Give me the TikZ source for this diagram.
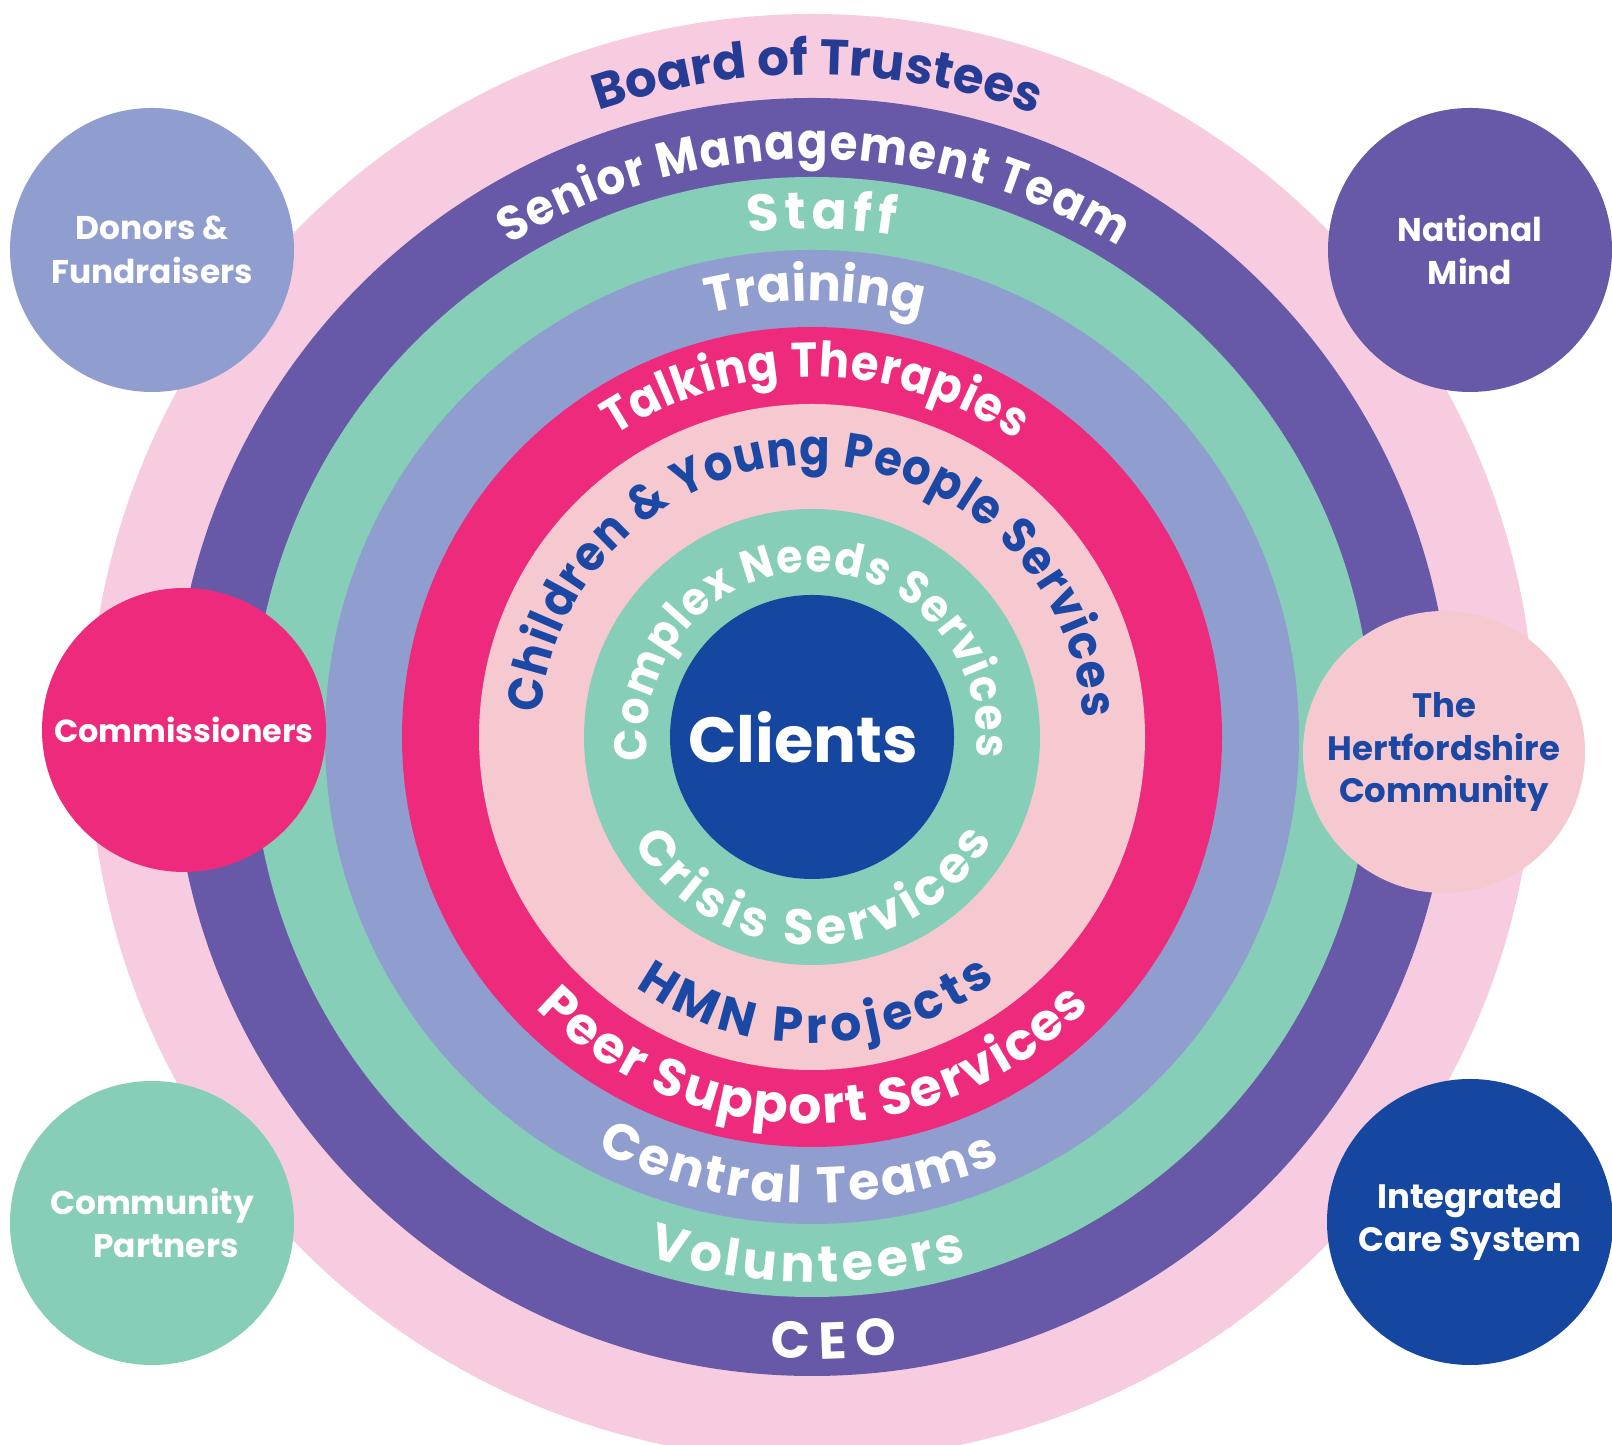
\documentclass[tikz,border=0pt]{standalone}
\usepackage{fontspec}
\setmainfont{Poppins}
\newfontfamily\ringfont{Poppins}[FakeStretch=0.92]
\usetikzlibrary{decorations.text}
\definecolor{pinkO}{RGB}{248,204,224}
\definecolor{purp}{RGB}{103,89,168}
\definecolor{tealc}{RGB}{134,206,184}
\definecolor{lav}{RGB}{144,157,207}
\definecolor{mag}{RGB}{237,42,123}
\definecolor{ppink}{RGB}{246,201,208}
\definecolor{dblue}{RGB}{21,70,160}
\definecolor{navy}{RGB}{38,60,148}
\definecolor{tblue}{RGB}{26,72,164}
% narrowed face, for the long labels
\newcommand\ringlabel[6]{%
  \path[decorate, decoration={text along path, text align={fit to path},
    text color=#5, text={|\ringfont\fontsize{#4}{#4}\selectfont\bfseries|#6}}]
    ([shift={(812,708)}]#1:#3) arc[start angle=#1, end angle=#2, radius=#3];}
% normal face, for the short labels
\newcommand\ringlabelw[6]{%
  \path[decorate, decoration={text along path, text align={fit to path},
    text color=#5, text={|\fontsize{#4}{#4}\selectfont\bfseries|#6}}]
    ([shift={(812,708)}]#1:#3) arc[start angle=#1, end angle=#2, radius=#3];}
\begin{document}
\begin{tikzpicture}[x=1bp, y=1bp,
  sat/.style={circle, inner sep=0pt, minimum size=284bp, align=center,
    font=\fontsize{33}{44}\selectfont\bfseries}]
\useasboundingbox (0,0) rectangle (1612,1445);
\clip (0,0) rectangle (1612,1445);
\fill[white] (0,0) rectangle (1612,1445);
\coordinate (C) at (812,708);
% rings
\fill[pinkO] (C) circle[radius=723];
\fill[purp]  (C) circle[radius=639];
\fill[tealc] (C) circle[radius=560];
\fill[lav]   (C) circle[radius=487];
\fill[mag]   (C) circle[radius=410];
\fill[ppink] (C) circle[radius=333];
\fill[tealc] (C) circle[radius=228];
\node[circle, fill=dblue, inner sep=0pt, minimum size=284bp] (clients) at (C) {};
\node[anchor=base, text=white, font=\fontsize{64}{64}\selectfont\bfseries] (clientsLabel) at (803,682) {Clients};
% labels on the upper arcs
\ringlabelw{108.8}{70.5}{662}{50}{navy}{Board of Trustees}
\ringlabel{121.6}{58}{578}{49}{white}{Senior Management Team}
\ringlabelw{97.2}{80.7}{508}{52}{white}{Staff}
\ringlabelw{103.7}{75.6}{436}{50}{white}{Training}
\ringlabel{123.3}{55.5}{360}{49}{white}{Talking Therapies}
\ringlabel{175}{4}{272}{49}{tblue}{Children {\&} Young People Services}
\ringlabel{188}{-7}{165}{46}{white}{Complex Needs Services}
% labels on the lower arcs
\ringlabelw{210.6}{330.3}{208}{50}{white}{Crisis Services}
\ringlabelw{234.8}{307}{306}{49}{tblue}{HMN Projects}
\ringlabelw{224.5}{316}{387}{52}{white}{Peer Support Services}
\ringlabelw{242.5}{293.9}{466}{51}{white}{Central Teams}
\ringlabelw{252.4}{286.5}{545}{51}{white}{Volunteers}
\ringlabelw{266.2}{277.9}{622}{52}{white}{CEO}
% satellites
\node[sat, fill=lav, text=white] (donors) at (152,1195) {Donors \&\\Fundraisers};
\node[sat, fill=purp, text=white] (national) at (1470,1195) {National\\Mind};
\node[sat, fill=mag, text=white, font=\fontsize{32}{44}\selectfont\bfseries] (commissioners) at (184,715) {Commissioners};
\node[sat, fill=ppink, text=tblue, minimum size=282bp, font=\fontsize{34}{43}\selectfont\bfseries] (herts) at (1444,693) {The\\Hertfordshire\\Community};
\node[sat, fill=tealc, text=white] (partners) at (152,222) {Community\\\hspace*{28bp}Partners};
\node[sat, fill=dblue, text=white, minimum size=286bp, font=\fontsize{34}{44}\selectfont\bfseries] (ics) at (1470,223) {Integrated\\Care System};
\end{tikzpicture}
\end{document}
